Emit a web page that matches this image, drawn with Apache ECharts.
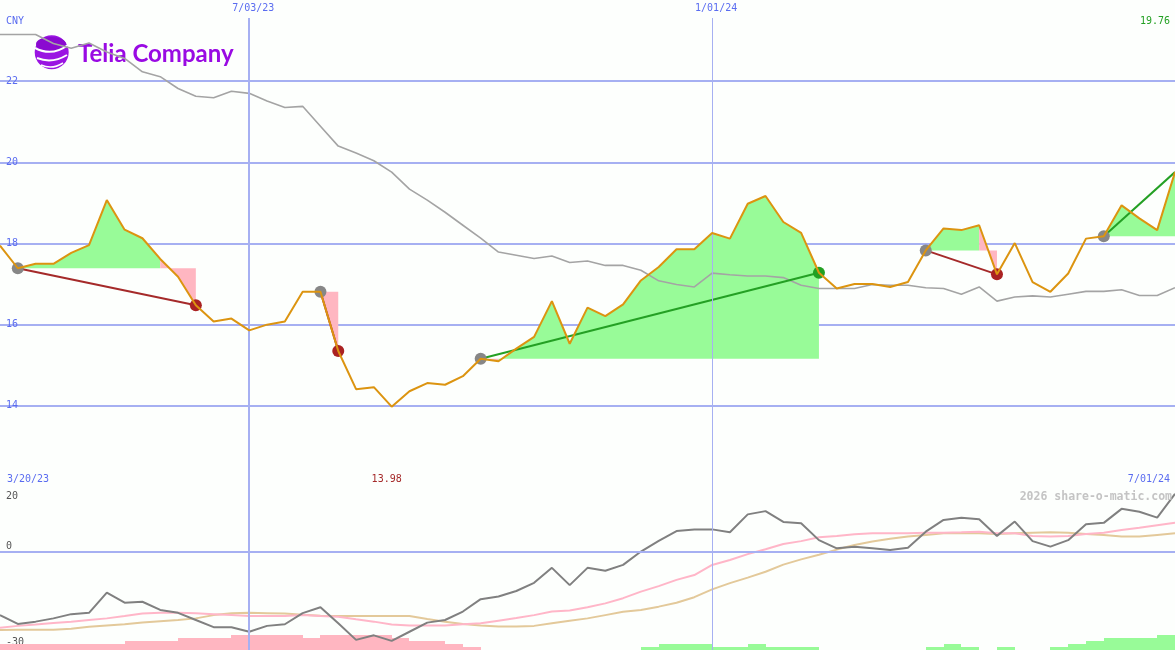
<!DOCTYPE html>
<html><head><meta charset="utf-8">
<script src="https://cdn.jsdelivr.net/npm/echarts@6/dist/echarts.min.js"></script>
<style>html,body{margin:0;padding:0;background:#fdfffd;}#c{width:1175px;height:650px;}</style>
</head><body><div id="c"></div>
<script>
// ---------- data ----------
const price = [17.95,17.39,17.50,17.50,17.77,17.96,19.07,18.34,18.13,17.62,
  17.18,16.48,16.08,16.15,15.86,16.00,16.08,16.81,16.81,15.35,
  14.41,14.46,13.98,14.36,14.56,14.52,14.73,15.16,15.10,15.41,
  15.70,16.58,15.53,16.42,16.21,16.50,17.09,17.42,17.86,17.86,
  18.26,18.12,18.98,19.17,18.53,18.26,17.28,16.89,17.00,17.00,
  16.93,17.05,17.83,18.37,18.33,18.45,17.24,18.01,17.05,16.81,
  17.26,18.12,18.18,18.94,18.62,18.33,19.76];
const movingAvg = [23.15,23.15,23.15,22.93,22.81,22.94,22.72,22.56,22.23,22.11,
  21.82,21.63,21.59,21.75,21.70,21.51,21.35,21.38,20.89,20.40,
  20.23,20.04,19.76,19.34,19.07,18.77,18.45,18.13,17.79,17.71,
  17.63,17.69,17.53,17.57,17.46,17.46,17.34,17.08,16.99,16.93,
  17.27,17.23,17.20,17.20,17.16,16.97,16.89,16.89,16.89,16.99,
  16.97,16.97,16.91,16.89,16.75,16.93,16.58,16.68,16.71,16.68,
  16.75,16.82,16.82,16.86,16.72,16.72,16.91];
const oscillator = [-19.3,-22.0,-21.3,-20.3,-19.0,-18.6,-12.4,-15.5,-15.2,-17.7,
  -18.6,-20.8,-23.0,-23.0,-24.4,-22.6,-22.1,-18.7,-16.9,-21.8,
  -26.9,-25.5,-27.2,-24.4,-21.6,-20.8,-18.2,-14.4,-13.6,-11.9,
  -9.4,-4.8,-10.1,-4.8,-5.7,-3.9,0.2,3.5,6.5,7.0,
  7.0,6.1,11.6,12.6,9.3,8.9,3.7,1.2,1.7,1.2,
  0.7,1.4,6.3,9.9,10.6,10.1,5.0,9.4,3.4,1.7,
  3.7,8.6,9.0,13.3,12.4,10.6,17.9];
const signalPink = [-23.2,-22.6,-22.2,-21.7,-21.3,-20.8,-20.3,-19.6,-18.8,-18.6,
  -18.6,-18.7,-19.0,-19.3,-19.6,-19.6,-19.6,-19.3,-19.6,-19.8,
  -20.6,-21.3,-22.2,-22.5,-22.5,-22.5,-22.1,-21.8,-21.0,-20.2,
  -19.3,-18.2,-17.9,-16.9,-15.7,-14.1,-12.1,-10.4,-8.5,-7.0,
  -3.9,-2.4,-0.6,0.9,2.5,3.4,4.6,5.0,5.5,5.8,
  5.8,5.8,6.0,6.0,6.1,6.3,5.8,5.8,5.0,4.8,
  5.0,5.6,6.0,6.8,7.5,8.3,9.0];
const signalTan = [-23.9,-23.8,-23.8,-23.8,-23.5,-22.9,-22.5,-22.1,-21.6,-21.2,
  -20.8,-20.3,-19.3,-18.7,-18.6,-18.7,-18.8,-19.2,-19.5,-19.6,
  -19.6,-19.6,-19.6,-19.6,-20.5,-21.3,-22.0,-22.5,-22.8,-22.8,
  -22.6,-21.8,-21.0,-20.3,-19.3,-18.3,-17.7,-16.7,-15.5,-13.8,
  -11.4,-9.5,-7.8,-6.0,-3.8,-2.2,-0.8,0.8,2.2,3.3,
  4.1,4.8,5.3,5.8,5.8,5.8,5.6,5.8,6.0,6.1,
  6.0,5.6,5.3,4.8,4.8,5.3,5.8];
// histogram level per weekly interval (negative = pink, positive = green)
const histogram = [-2,-2,-2,-2,-2,-2,-2,-3,-3,-3,
  -4,-4,-4,-5,-5,-5,-5,-4,-5,-5,
  -5,-5,-4,-3,-3,-2,-1,0,0,0,
  0,0,0,0,0,0,1,2,2,2,
  1,1,2,1,1,1,0,0,0,0,
  0,0,1,2,1,0,1,0,0,1,
  2,3,4,4,4,5];
const tradeEntry = [1,18,27,52,62];
const tradeExit  = [11,19,46,56,66];
const tradeOpen  = [false,false,false,false,true];
const priceTicks = [14,16,18,20,22];
const lowerTicks = [20,0,-30];
const markedWeeks = [14,40];
const currency = 'CNY';
const startLabel = '3/20/23';
const endLabel = '7/01/24';
const watermark = '2026 share-o-matic.com';
const logoText = 'Telia Company';

// weekly categories (Mondays)
const weeks = [];
for (let k = 0; k < price.length; k++) {
  const d = new Date(Date.UTC(2023, 2, 27) + k * 7 * 86400000);
  weeks.push((d.getUTCMonth() + 1) + '/' + String(d.getUTCDate()).padStart(2, '0') + '/' + String(d.getUTCFullYear()).slice(2));
}

// ---------- styles ----------
const BG = '#fdfffd', BLUE = '#5a6cf0', GRID = '#a6b0f2', SEP = '#7484ec';
const MONO = '"DejaVu Sans Mono", "Liberation Mono", monospace';
const FILL_UP = '#98fb98', FILL_DN = '#ffb6c1';
const WIN = '#24a024', LOSS = '#a52a2a';

// derived: runs of same-coloured fill per trade, connectors, circles
const fillRuns = [], connectors = [], circles = [];
tradeEntry.forEach((e, t) => {
  const x = tradeExit[t], base = price[e];
  let runStart = e, runUp = price[e + 1] >= base;
  for (let i = e; i < x; i++) {
    const up = price[i + 1] >= base;
    if (up !== runUp) { fillRuns.push([runStart, base, i, runUp ? 1 : 0]); runStart = i; runUp = up; }
  }
  fillRuns.push([runStart, base, x, runUp ? 1 : 0]);
  connectors.push([e, price[e], x, price[x]]);
  circles.push([e, price[e], 0]);
  if (!tradeOpen[t]) circles.push([x, price[x], price[x] > price[e] ? 2 : 1]);
});
const histData = histogram.map((v, i) => [i, v]);

const chart = echarts.init(document.getElementById('c'), null, {renderer: 'canvas'});
const option = {
  animation: false,
  backgroundColor: BG,
  grid: [
    {left: 0, right: 0, top: 0, height: 487},
    {left: 0, right: 0, top: 487, height: 163}
  ],
  xAxis: [
    {type: 'category', gridIndex: 0, data: weeks, boundaryGap: false, position: 'top', z: 10,
     axisLine: {show: false}, axisTick: {show: false}, splitLine: {show: false},
     axisLabel: {show: true, inside: true, margin: 0, interval: (i) => markedWeeks.includes(i),
       color: BLUE, fontFamily: MONO, fontSize: 10, backgroundColor: BG, padding: [3, 2, 5, 10]}},
    {type: 'category', gridIndex: 1, data: weeks, boundaryGap: false, position: 'top',
     axisLine: {show: true, lineStyle: {color: SEP, width: 2}}, axisTick: {show: false},
     axisLabel: {show: false}, splitLine: {show: false}}
  ],
  yAxis: [
    {type: 'value', gridIndex: 0, min: 12, max: 24, interval: 2,
     axisLine: {show: false}, axisTick: {show: false},
     axisLabel: {inside: true, margin: 6, color: BLUE, fontFamily: MONO, fontSize: 10, padding: [0, 0, 13, 0],
       formatter: (v) => priceTicks.includes(v) ? String(v) : ''},
     splitLine: {show: true, showMinLine: false, showMaxLine: false, lineStyle: {color: GRID, width: 2}}},
    {type: 'value', gridIndex: 1, min: -30, max: 20, interval: 10,
     axisLine: {show: false}, axisTick: {show: false}, splitLine: {show: false},
     axisLabel: {inside: true, margin: 6, color: '#555', fontFamily: MONO, fontSize: 10,
       formatter: (v) => !lowerTicks.includes(v) ? '' : (v === 20 ? '{t|20}' : v === 0 ? '{m|0}' : '{b|' + v + '}'),
       rich: {
         t: {padding: [18, 0, 0, 0], color: '#555', fontFamily: MONO, fontSize: 10},
         m: {padding: [0, 0, 12, 0], color: '#555', fontFamily: MONO, fontSize: 10},
         b: {padding: [0, 0, 15, 0], color: '#555', fontFamily: MONO, fontSize: 10}
       }}},
    {type: 'value', gridIndex: 1, min: 0, max: 163 / 3, show: false}
  ],
  series: [
    {type: 'line', xAxisIndex: 0, yAxisIndex: 0, data: price, z: 0, symbol: 'none', silent: true,
     lineStyle: {opacity: 0},
     markLine: {silent: true, symbol: ['none', 'none'], label: {show: false},
       data: [
         {xAxis: weeks[markedWeeks[0]], lineStyle: {color: GRID, width: 2, type: 'solid'}},
         {xAxis: weeks[markedWeeks[1]], lineStyle: {color: GRID, width: 1, type: 'solid'}}
       ]}},
    {type: 'custom', xAxisIndex: 0, yAxisIndex: 0, z: 1, silent: true, data: fillRuns,
     renderItem: (params, api) => {
       const s = api.value(0), base = api.value(1), e = api.value(2), up = api.value(3);
       const pts = [api.coord([s, base])];
       for (let k = s; k <= e; k++) pts.push(api.coord([k, price[k]]));
       pts.push(api.coord([e, base]));
       return {type: 'polygon', shape: {points: pts}, style: {fill: up ? FILL_UP : FILL_DN}};
     }},
    {type: 'line', xAxisIndex: 0, yAxisIndex: 0, data: movingAvg, z: 2, symbol: 'none', silent: true,
     lineStyle: {color: '#a4a4a4', width: 1.6}},
    {type: 'custom', xAxisIndex: 0, yAxisIndex: 0, z: 3, silent: true, data: connectors,
     renderItem: (params, api) => {
       const p1 = api.coord([api.value(0), api.value(1)]), p2 = api.coord([api.value(2), api.value(3)]);
       return {type: 'line', shape: {x1: p1[0], y1: p1[1], x2: p2[0], y2: p2[1]},
         style: {stroke: api.value(3) > api.value(1) ? WIN : LOSS, lineWidth: 2}};
     }},
    {type: 'custom', xAxisIndex: 0, yAxisIndex: 0, z: 4, silent: true, data: circles,
     renderItem: (params, api) => {
       const p = api.coord([api.value(0), api.value(1)]);
       const k = api.value(2);
       return {type: 'circle', shape: {cx: p[0], cy: p[1], r: 6},
         style: {fill: k === 0 ? '#878787' : (k === 1 ? '#aa2222' : '#22a022')}};
     }},
    {type: 'line', xAxisIndex: 0, yAxisIndex: 0, data: price, z: 5, symbol: 'none', silent: true,
     lineStyle: {color: '#dc9410', width: 2}},
    // lower panel
    {type: 'line', xAxisIndex: 1, yAxisIndex: 1, data: oscillator, z: 0, symbol: 'none', silent: true,
     lineStyle: {opacity: 0},
     markLine: {silent: true, symbol: ['none', 'none'], label: {show: false},
       data: [
         {yAxis: 0, lineStyle: {color: GRID, width: 2, type: 'solid'}},
         {xAxis: weeks[markedWeeks[0]], lineStyle: {color: GRID, width: 2, type: 'solid'}},
         {xAxis: weeks[markedWeeks[1]], lineStyle: {color: GRID, width: 1, type: 'solid'}}
       ]}},
    {type: 'custom', xAxisIndex: 1, yAxisIndex: 2, z: 1, silent: true, data: histData,
     renderItem: (params, api) => {
       const i = api.value(0), v = api.value(1);
       if (!v) return null;
       const a = api.coord([i, Math.abs(v)]), b = api.coord([i + 1, 0]);
       const x0 = Math.round(a[0]), x1 = Math.round(b[0]), y0 = Math.round(a[1]), y1 = Math.round(b[1]);
       return {type: 'rect', shape: {x: x0, y: y0, width: x1 - x0, height: y1 - y0},
         style: {fill: v > 0 ? FILL_UP : FILL_DN}};
     }},
    {type: 'line', xAxisIndex: 1, yAxisIndex: 1, data: signalTan, z: 2, symbol: 'none', silent: true,
     lineStyle: {color: '#e3c99a', width: 2}},
    {type: 'line', xAxisIndex: 1, yAxisIndex: 1, data: signalPink, z: 2, symbol: 'none', silent: true,
     lineStyle: {color: '#ffb6c8', width: 2}},
    {type: 'line', xAxisIndex: 1, yAxisIndex: 1, data: oscillator, z: 3, symbol: 'none', silent: true,
     lineStyle: {color: '#808080', width: 2}}
  ]
};
chart.setOption(option);

// value labels placed through the chart's own scales
let minIdx = 0;
price.forEach((v, i) => { if (v < price[minIdx]) minIdx = i; });
const minPx = chart.convertToPixel({gridIndex: 0}, [minIdx, price[minIdx]]);
const lastVal = price[price.length - 1];
const txt = (text, x, y, align, color, font) => ({type: 'text', z: 20, silent: true,
  style: {text: text, x: x, y: y, textAlign: align, textVerticalAlign: 'middle', fill: color, font: font || ('10px ' + MONO)}});
chart.setOption({graphic: [
  {type: 'circle', z: 0, silent: true, shape: {cx: 51.7, cy: 52.3, r: 17}, style: {fill: '#9a14e2'}},
  {type: 'ellipse', z: 0, silent: true, shape: {cx: 51, cy: 44, rx: 15, ry: 7}, style: {fill: '#8a0ad0'}},
  {type: 'bezierCurve', z: 0, silent: true, shape: {x1: 35, y1: 48, cpx1: 52, cpy1: 57, x2: 68, y2: 45}, style: {stroke: BG, lineWidth: 2, fill: null}},
  {type: 'bezierCurve', z: 0, silent: true, shape: {x1: 37, y1: 58, cpx1: 52, cpy1: 64, x2: 67, y2: 55}, style: {stroke: BG, lineWidth: 2, fill: null}},
  {type: 'bezierCurve', z: 0, silent: true, shape: {x1: 41, y1: 65, cpx1: 52, cpy1: 70, x2: 63, y2: 63}, style: {stroke: BG, lineWidth: 1.5, fill: null}},
  {type: 'text', z: 0, silent: true, style: {text: logoText, x: 78, y: 54, textAlign: 'left', textVerticalAlign: 'middle',
    fill: '#990ae3', font: 'bold 24px Lato'}},
  txt(currency, 6, 21, 'left', BLUE),
  txt(lastVal.toFixed(2), 1170, 21, 'right', '#22a022'),
  txt(startLabel, 7, 479, 'left', BLUE),
  txt(price[minIdx].toFixed(2), minPx[0] - 5, 479, 'center', '#a52a2a'),
  txt(endLabel, 1170, 479, 'right', BLUE),
  txt(watermark, 1172, 497, 'right', '#c4c4c4', 'bold 11.5px ' + MONO)
]});
</script>
</body></html>
